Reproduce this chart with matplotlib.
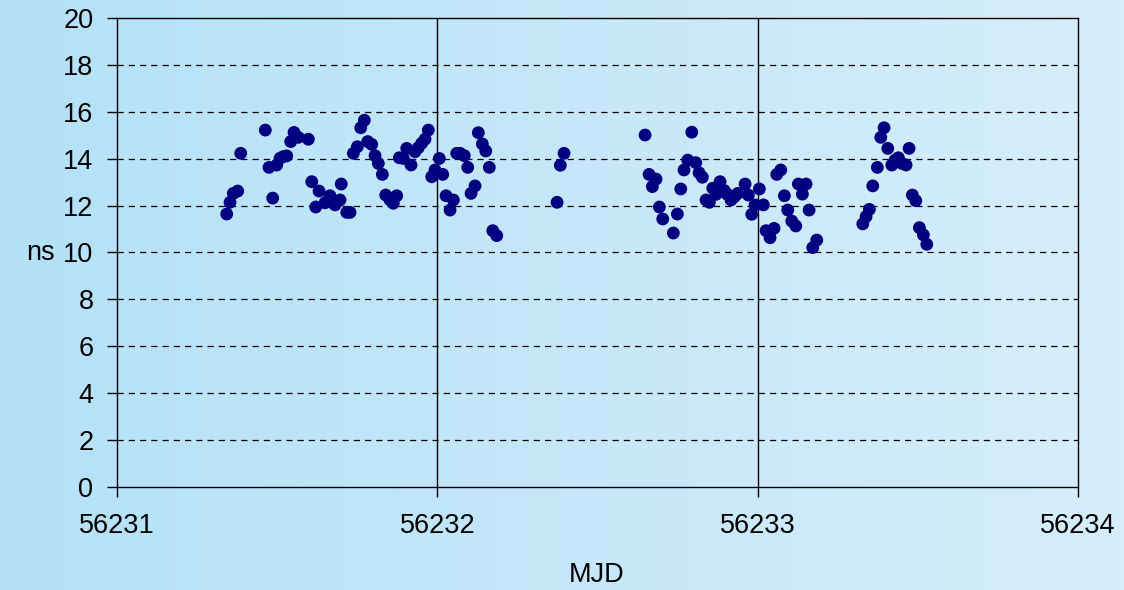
import numpy as np
import matplotlib
matplotlib.use("Agg")
import matplotlib.pyplot as plt
from matplotlib.colors import LinearSegmentedColormap

plt.rcParams['font.family'] = ['Liberation Sans', 'DejaVu Sans']

# time offsets (days after MJD 56231) and time differences in ns
mjd_base = 56231
day_offset = [
    0.3425, 0.3528, 0.3631, 0.3768, 0.3862, 0.4630, 0.4746, 0.4861, 0.4986, 0.5089,
    0.5192, 0.5298, 0.5423, 0.5526, 0.5660, 0.5973, 0.6079, 0.6204, 0.6307, 0.6494,
    0.6650, 0.6806, 0.7000, 0.6962, 0.7173, 0.7275, 0.7378, 0.7503, 0.7609, 0.7721,
    0.7827, 0.7952, 0.8055, 0.8158, 0.8283, 0.8389, 0.8523, 0.8626, 0.8732, 0.8814,
    0.8939, 0.9045, 0.9179, 0.9304, 0.9407, 0.9513, 0.9616, 0.9719, 0.9825, 0.9928,
    1.0062, 1.0169, 1.0272, 1.0397, 1.0500, 1.0606, 1.0709, 1.0843, 1.0949, 1.1052,
    1.1177, 1.1280, 1.1405, 1.1511, 1.1623, 1.1730, 1.1855,
    1.3737, 1.3840, 1.3956,
    1.6485, 1.6610, 1.6713, 1.6828, 1.6931, 1.7037, 1.7368, 1.7493, 1.7599, 1.7702,
    1.7818, 1.7943, 1.8068, 1.8170, 1.8274, 1.8389, 1.8492, 1.8598, 1.8701, 1.8826,
    1.8960, 1.9054, 1.9169, 1.9273, 1.9379, 1.9607, 1.9710, 1.9816, 1.9919, 2.0053,
    2.0178, 2.0262, 2.0387, 2.0512, 2.0596, 2.0721, 2.0834, 2.0940, 2.1065, 2.1190,
    2.1271, 2.1396, 2.1511, 2.1605, 2.1720, 2.1845,
    2.3281, 2.3384, 2.3487, 2.3593, 2.3737, 2.3843, 2.3946, 2.4062, 2.4187, 2.4290,
    2.4393, 2.4499, 2.4633, 2.4727, 2.4830, 2.4936, 2.5048, 2.5173, 2.5279,
]
ns_values = [
    11.64, 12.14, 12.52, 12.62, 14.23, 15.22, 13.63, 12.32, 13.73, 14.02,
    14.09, 14.12, 14.73, 15.12, 14.91, 14.83, 13.02, 11.94, 12.62, 12.12,
    12.42, 12.03, 12.92, 12.24, 11.71, 11.71, 14.23, 14.51, 15.32, 15.64,
    14.73, 14.61, 14.13, 13.80, 13.33, 12.45, 12.24, 12.10, 12.42, 14.04,
    14.01, 14.44, 13.73, 14.30, 14.47, 14.66, 14.83, 15.22, 13.23, 13.52,
    14.01, 13.33, 12.42, 11.81, 12.24, 14.23, 14.23, 14.13, 13.63, 12.52,
    12.84, 15.11, 14.63, 14.33, 13.63, 10.93, 10.72,
    12.14, 13.72, 14.23,
    15.01, 13.33, 12.81, 13.13, 11.94, 11.43, 10.83, 11.64, 12.71, 13.52,
    13.94, 15.13, 13.83, 13.40, 13.21, 12.24, 12.14, 12.74, 12.48, 13.02,
    12.64, 12.48, 12.24, 12.38, 12.52, 12.92, 12.45, 11.63, 12.03, 12.71,
    12.03, 10.93, 10.63, 11.03, 13.33, 13.52, 12.42, 11.81, 11.34, 11.13,
    12.92, 12.49, 12.92, 11.81, 10.21, 10.53,
    11.22, 11.53, 11.84, 12.84, 13.63, 14.91, 15.32, 14.44, 13.73, 13.94,
    14.04, 13.80, 13.73, 14.44, 12.45, 12.21, 11.06, 10.75, 10.35,
]
x_ticks = [56231, 56232, 56233, 56234]
y_ticks = list(range(0, 21, 2))

mjd = np.array(day_offset) + mjd_base

fig = plt.figure(figsize=(11.24, 5.90), dpi=100)

# light blue gradient behind everything
bg = fig.add_axes([0, 0, 1, 1], zorder=-10)
grad = np.linspace(0, 1, 256).reshape(1, -1)
cmap = LinearSegmentedColormap.from_list('bg', ['#b4e1f8', '#d6eefa'])
bg.imshow(grad, aspect='auto', cmap=cmap, extent=[0, 1, 0, 1])
bg.set_axis_off()

ax = fig.add_axes([117 / 1124, 1 - 487 / 590, 961 / 1124, 469 / 590])
ax.patch.set_alpha(0)

ax.scatter(mjd, ns_values, s=85, color='#000080', edgecolors='none', zorder=3)

ax.set_xlim(56231, 56234)
ax.set_ylim(0, 20)
ax.set_xticks(x_ticks)
ax.set_yticks(y_ticks)
ax.set_xticklabels([str(t) for t in x_ticks])

# dashed horizontal grid, solid vertical grid
for y in y_ticks[1:-1]:
    ax.axhline(y, color='black', lw=0.9, ls=(0, (5, 4)), zorder=1)
for x in x_ticks[1:-1]:
    ax.axvline(x, color='black', lw=1.0, zorder=1)

for sp in ax.spines.values():
    sp.set_color('black')
    sp.set_linewidth(1.0)

ax.tick_params(axis='both', direction='out', length=7, width=1.0,
               labelsize=19.5, colors='black')
ax.tick_params(axis='y', pad=10)
ax.tick_params(axis='x', pad=12)

ax.set_ylabel('ns', fontsize=19.5, rotation=0, ha='center', va='center')
ax.yaxis.set_label_coords(-0.080, 0.5)
ax.set_xlabel('MJD', fontsize=19.5, va='center')
ax.xaxis.set_label_coords(0.4995, -0.1876)

fig.savefig('out.png', dpi=100)
